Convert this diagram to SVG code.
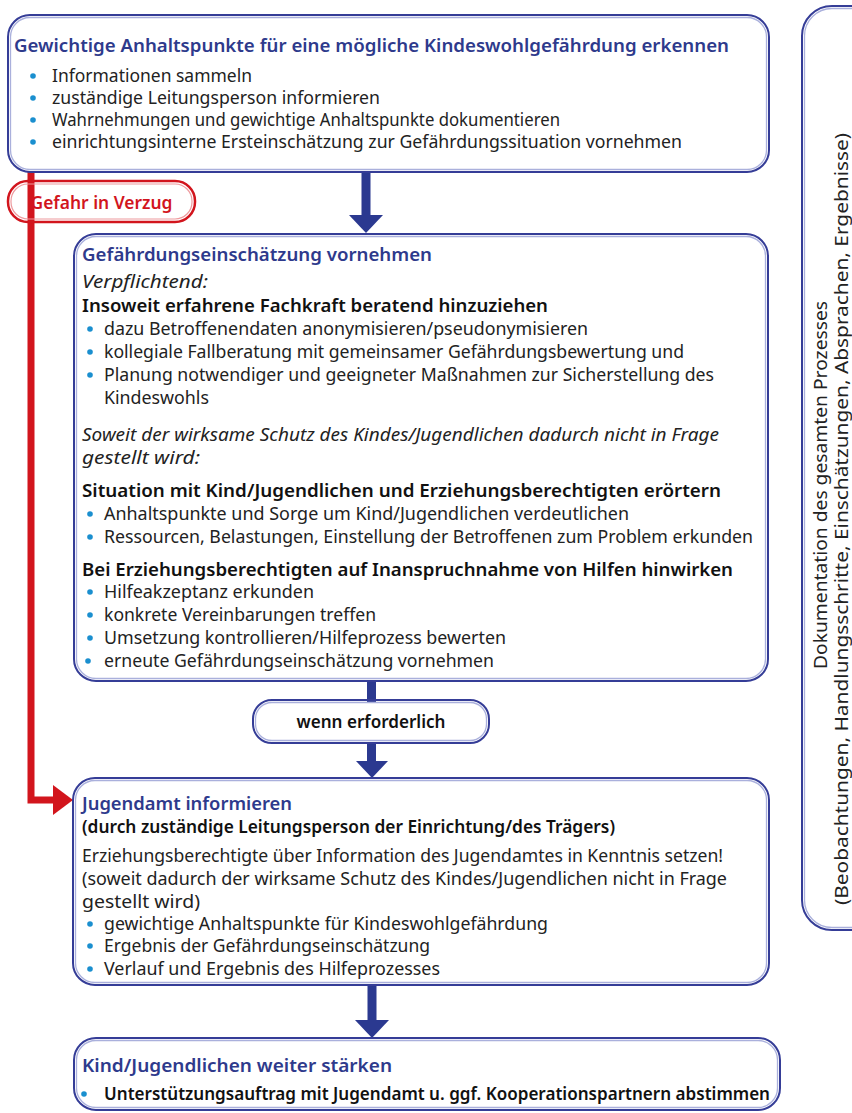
<svg xmlns="http://www.w3.org/2000/svg" width="852" height="1113" viewBox="0 0 852 1113">
<style>
text{font-family:"Noto Sans","Open Sans","Liberation Sans",sans-serif;font-size:17.6px;fill:#222}
.h{fill:#2e3a8c;font-weight:600;font-size:18.4px}
.b{font-weight:600;fill:#111;font-size:17.6px}
.i{font-style:italic;font-size:18px}
.v{font-size:17.6px}
.bo{fill:none;stroke:#353d97;stroke-width:2}
.bi{fill:none;stroke:#aab0dc;stroke-width:1.3}
.dot{fill:#1a8fcf}
.arr{fill:#2b3990}
.rd{fill:none;stroke:#d2151d;stroke-width:2.5}
.ri{fill:none;stroke:#ee9a9e;stroke-width:1.2}
</style>
<g id="connectors">
<path d="M31 172 V800 H55" fill="none" stroke="#d2151d" stroke-width="7"/>
<polygon points="53,785 73,800 53,815" fill="#d2151d"/>
<rect x="361.5" y="171" width="9" height="46" class="arr"/>
<polygon points="349,215 383,215 366,233" class="arr"/>
<rect x="367" y="680" width="9" height="22" class="arr"/>
<rect x="367" y="742" width="9" height="21" class="arr"/>
<polygon points="356,761 388,761 372,778" class="arr"/>
<rect x="367.5" y="985" width="9" height="37" class="arr"/>
<polygon points="355,1020 389,1020 372,1038" class="arr"/>
</g>
<g id="doc">
<rect x="802" y="6" width="90" height="924" rx="30" class="bo"/>
<rect x="804.5" y="8.5" width="85" height="919" rx="27.5" class="bi"/>
<text transform="translate(827,485) rotate(-90)" text-anchor="middle" class="v" textLength="368" lengthAdjust="spacingAndGlyphs">Dokumentation des gesamten Prozesses</text>
<text transform="translate(848,519) rotate(-90)" text-anchor="middle" class="v" textLength="772" lengthAdjust="spacingAndGlyphs">(Beobachtungen, Handlungsschritte, Einschätzungen, Absprachen, Ergebnisse)</text>
</g>
<g id="box1" lengthAdjust="spacingAndGlyphs">
<rect x="8" y="15" width="761" height="157" rx="22" fill="#fff" class="bo"/>
<rect x="10.5" y="17.5" width="756" height="152" rx="19.5" class="bi"/>
<text x="14" y="52" class="h" textLength="715" lengthAdjust="spacingAndGlyphs">Gewichtige Anhaltspunkte für eine mögliche Kindeswohlgefährdung erkennen</text>
<circle cx="33" cy="76" r="2.8" class="dot"/><text x="52" y="82" textLength="200" lengthAdjust="spacingAndGlyphs">Informationen sammeln</text>
<circle cx="33" cy="98" r="2.8" class="dot"/><text x="52" y="104" textLength="328" lengthAdjust="spacingAndGlyphs">zuständige Leitungsperson informieren</text>
<circle cx="33" cy="120" r="2.8" class="dot"/><text x="52" y="126" textLength="508" lengthAdjust="spacingAndGlyphs">Wahrnehmungen und gewichtige Anhaltspunkte dokumentieren</text>
<circle cx="33" cy="142" r="2.8" class="dot"/><text x="52" y="148" textLength="630" lengthAdjust="spacingAndGlyphs">einrichtungsinterne Ersteinschätzung zur Gefährdungssituation vornehmen</text>
</g>
<g id="gefahr">
<rect x="8" y="181" width="187" height="41" rx="20" fill="#fff" class="rd"/>
<rect x="11" y="184" width="181" height="35" rx="17" class="ri"/>
<text x="101.5" y="209" text-anchor="middle" style="fill:#d2151d;font-weight:600;font-size:17.5px" textLength="142" lengthAdjust="spacingAndGlyphs">Gefahr in Verzug</text>
</g>
<g id="box2">
<rect x="74" y="234" width="694" height="447" rx="22" fill="#fff" class="bo"/>
<rect x="76.5" y="236.5" width="689" height="442" rx="19.5" class="bi"/>
<text x="82" y="261" class="h" textLength="350" lengthAdjust="spacingAndGlyphs">Gefährdungseinschätzung vornehmen</text>
<text x="82" y="288" class="i" textLength="126" lengthAdjust="spacingAndGlyphs">Verpflichtend:</text>
<text x="82" y="312" class="b" textLength="466" lengthAdjust="spacingAndGlyphs">Insoweit erfahrene Fachkraft beratend hinzuziehen</text>
<circle cx="90" cy="329" r="2.8" class="dot"/><text x="104" y="335" textLength="484" lengthAdjust="spacingAndGlyphs">dazu Betroffenendaten anonymisieren/pseudonymisieren</text>
<circle cx="90" cy="352" r="2.8" class="dot"/><text x="104" y="358" textLength="580" lengthAdjust="spacingAndGlyphs">kollegiale Fallberatung mit gemeinsamer Gefährdungsbewertung und</text>
<circle cx="90" cy="375" r="2.8" class="dot"/><text x="104" y="381" textLength="610" lengthAdjust="spacingAndGlyphs">Planung notwendiger und geeigneter Maßnahmen zur Sicherstellung des</text>
<text x="104" y="404" textLength="105" lengthAdjust="spacingAndGlyphs">Kindeswohls</text>
<text x="82" y="441" class="i" textLength="637" lengthAdjust="spacingAndGlyphs">Soweit der wirksame Schutz des Kindes/Jugendlichen dadurch nicht in Frage</text>
<text x="82" y="464" class="i" textLength="118" lengthAdjust="spacingAndGlyphs">gestellt wird:</text>
<text x="82" y="497" class="b" textLength="639" lengthAdjust="spacingAndGlyphs">Situation mit Kind/Jugendlichen und Erziehungsberechtigten erörtern</text>
<circle cx="90" cy="514" r="2.8" class="dot"/><text x="104" y="520" textLength="525" lengthAdjust="spacingAndGlyphs">Anhaltspunkte und Sorge um Kind/Jugendlichen verdeutlichen</text>
<circle cx="90" cy="537" r="2.8" class="dot"/><text x="104" y="543" textLength="649" lengthAdjust="spacingAndGlyphs">Ressourcen, Belastungen, Einstellung der Betroffenen zum Problem erkunden</text>
<text x="82" y="576" class="b" textLength="651" lengthAdjust="spacingAndGlyphs">Bei Erziehungsberechtigten auf Inanspruchnahme von Hilfen hinwirken</text>
<circle cx="90" cy="592" r="2.8" class="dot"/><text x="104" y="598" textLength="210" lengthAdjust="spacingAndGlyphs">Hilfeakzeptanz erkunden</text>
<circle cx="90" cy="615" r="2.8" class="dot"/><text x="104" y="621" textLength="272" lengthAdjust="spacingAndGlyphs">konkrete Vereinbarungen treffen</text>
<circle cx="90" cy="638" r="2.8" class="dot"/><text x="104" y="644" textLength="402" lengthAdjust="spacingAndGlyphs">Umsetzung kontrollieren/Hilfeprozess bewerten</text>
<circle cx="88" cy="661" r="2.8" class="dot"/><text x="104" y="667" textLength="390" lengthAdjust="spacingAndGlyphs">erneute Gefährdungseinschätzung vornehmen</text>
</g>
<g id="wenn">
<rect x="253" y="700" width="236" height="43" rx="19" fill="#fff" class="bo"/>
<rect x="255.5" y="702.5" width="231" height="38" rx="16.5" class="bi"/>
<text x="371" y="728" text-anchor="middle" class="b" textLength="149" lengthAdjust="spacingAndGlyphs">wenn erforderlich</text>
</g>
<g id="box3">
<rect x="73" y="778" width="696" height="207" rx="22" fill="#fff" class="bo"/>
<rect x="75.5" y="780.5" width="691" height="202" rx="19.5" class="bi"/>
<text x="82" y="810" class="h" textLength="210" lengthAdjust="spacingAndGlyphs">Jugendamt informieren</text>
<text x="82" y="833" class="b" textLength="533" lengthAdjust="spacingAndGlyphs">(durch zuständige Leitungsperson der Einrichtung/des Trägers)</text>
<text x="82" y="862" textLength="641" lengthAdjust="spacingAndGlyphs">Erziehungsberechtigte über Information des Jugendamtes in Kenntnis setzen!</text>
<text x="82" y="885" textLength="645" lengthAdjust="spacingAndGlyphs">(soweit dadurch der wirksame Schutz des Kindes/Jugendlichen nicht in Frage</text>
<text x="82" y="908" textLength="118" lengthAdjust="spacingAndGlyphs">gestellt wird)</text>
<circle cx="90" cy="924" r="2.8" class="dot"/><text x="104" y="930" textLength="444" lengthAdjust="spacingAndGlyphs">gewichtige Anhaltspunkte für Kindeswohlgefährdung</text>
<circle cx="90" cy="946" r="2.8" class="dot"/><text x="104" y="952" textLength="326" lengthAdjust="spacingAndGlyphs">Ergebnis der Gefährdungseinschätzung</text>
<circle cx="90" cy="969" r="2.8" class="dot"/><text x="104" y="975" textLength="336" lengthAdjust="spacingAndGlyphs">Verlauf und Ergebnis des Hilfeprozesses</text>
</g>
<g id="box4">
<rect x="74" y="1038" width="706" height="72" rx="22" fill="#fff" class="bo"/>
<rect x="76.5" y="1040.5" width="701" height="67" rx="19.5" class="bi"/>
<text x="82" y="1072" class="h" textLength="310" lengthAdjust="spacingAndGlyphs">Kind/Jugendlichen weiter stärken</text>
<circle cx="84" cy="1094" r="2.8" class="dot"/><text x="104" y="1100" class="b" textLength="666" lengthAdjust="spacingAndGlyphs">Unterstützungsauftrag mit Jugendamt u. ggf. Kooperationspartnern abstimmen</text>
</g>
</svg>
